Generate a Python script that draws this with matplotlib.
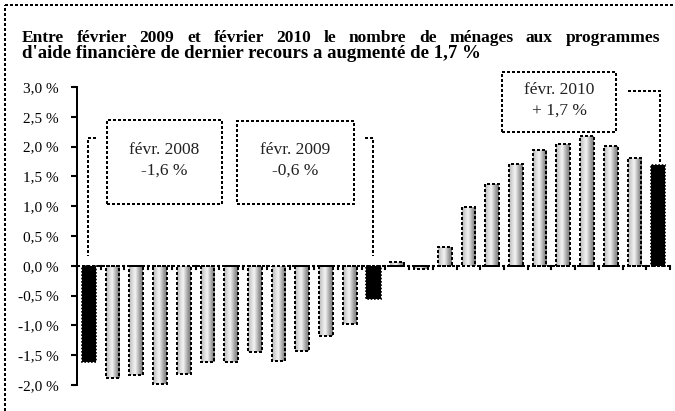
import numpy as np
import matplotlib
matplotlib.use("Agg")
import matplotlib.pyplot as plt
from matplotlib.colors import LinearSegmentedColormap
from matplotlib.lines import Line2D
from matplotlib.patches import Rectangle

# ---- data ----
months = ["févr. 2008", "mars 2008", "avr. 2008", "mai 2008", "juin 2008", "juil. 2008",
          "août 2008", "sept. 2008", "oct. 2008", "nov. 2008", "déc. 2008", "janv. 2009",
          "févr. 2009", "mars 2009", "avr. 2009", "mai 2009", "juin 2009", "juil. 2009",
          "août 2009", "sept. 2009", "oct. 2009", "nov. 2009", "déc. 2009", "janv. 2010",
          "févr. 2010"]
values = [-1.62, -1.88, -1.83, -1.98, -1.82, -1.62, -1.62, -1.44, -1.60, -1.43, -1.18, -0.98,
          -0.56, 0.07, -0.05, 0.32, 0.98, 1.38, 1.71, 1.95, 2.05, 2.18, 2.01, 1.81, 1.69]
highlight = ["févr. 2008", "févr. 2009", "févr. 2010"]
yticks = [-2.0, -1.5, -1.0, -0.5, 0.0, 0.5, 1.0, 1.5, 2.0, 2.5, 3.0]
ytick_labels = ["-2,0 %", "-1,5 %", "-1,0 %", "-0,5 %", "0,0 %", "0,5 %", "1,0 %",
                "1,5 %", "2,0 %", "2,5 %", "3,0 %"]
title_line1 = "Entre février 2009 et février 2010 le nombre de ménages aux programmes"
title_line2 = "d'aide financière de dernier recours a augmenté de 1,7 %"
box_texts = ["févr. 2008\n-1,6 %", "févr. 2009\n-0,6 %", "févr. 2010\n+ 1,7 %"]

W, H = 675, 411
SERIF = ["Liberation Serif", "DejaVu Serif"]
DOT = (0, (1, 1))
LW = 1.5

fig = plt.figure(figsize=(W / 100, H / 100), dpi=100)
fig.patch.set_facecolor("white")

def fx(px):
    return px / W

def fy(py):
    return 1 - py / H

ax = fig.add_axes([fx(77), fy(385), fx(670) - fx(77), fy(87) - fy(385)])
ax.set_facecolor("none")
x = np.arange(len(values))
ax.set_xlim(-0.5, len(values) - 0.5)
ax.set_ylim(-2.0, 3.0)

cmap = LinearSegmentedColormap.from_list(
    "cyl", [(0.0, "#b8b8b8"), (0.25, "#dcdcdc"), (0.45, "#f4f4f4"),
            (0.62, "#c8c8c8"), (0.8, "#9a9a9a"), (1.0, "#7a7a7a")])
grad = np.linspace(0, 1, 64).reshape(1, -1)
bw = 0.58
for xi, v, m in zip(x, values, months):
    if m in highlight:
        ax.bar(xi, v, width=0.6, color="black", edgecolor="black", linewidth=1.2,
               linestyle=DOT, zorder=3)
    else:
        b = ax.bar(xi, v, width=bw, color="white", edgecolor="none", zorder=2)[0]
        im = ax.imshow(grad, cmap=cmap, aspect="auto", zorder=2.5,
                       extent=[xi - bw / 2, xi + bw / 2, min(0, v), max(0, v)],
                       interpolation="bilinear")
        im.set_clip_path(b)
        ax.bar(xi, v, width=bw, facecolor="none", edgecolor="black", linewidth=LW,
               linestyle=DOT, zorder=3, antialiased=False)
ax.set_xlim(-0.5, len(values) - 0.5)
ax.set_ylim(-2.0, 3.0)

# axes styling
for s in ["top", "right", "bottom"]:
    ax.spines[s].set_visible(False)
ax.spines["left"].set_linestyle(DOT)
ax.spines["left"].set_linewidth(LW)
ax.spines["left"].set_antialiased(False)
ax.axhline(0, color="black", linewidth=LW, linestyle=DOT, zorder=4, antialiased=False)
ax.set_yticks(yticks)
ax.set_yticklabels(ytick_labels, fontfamily=SERIF, fontsize=11)
ax.tick_params(axis="y", direction="out", length=4, width=1.5, pad=9)
ax.set_xticks([])
for b in np.arange(len(values) + 1) - 0.5:
    ax.plot([b, b], [0, -0.05], color="black", lw=1.5, zorder=4, clip_on=False)

# annotation boxes (figure pixel coordinates)
boxes = [(107, 120, 222, 204), (237, 121, 354, 204), (502, 72, 616, 132)]
for (x0, y0, x1, y1), t in zip(boxes, box_texts):
    fig.patches.append(Rectangle((fx(x0), fy(y1)), fx(x1) - fx(x0), fy(y0) - fy(y1),
                                 transform=fig.transFigure, facecolor="white",
                                 edgecolor="black", linewidth=LW, linestyle=DOT,
                                 antialiased=False))
    fig.text(fx((x0 + x1) / 2), fy((y0 + y1) / 2 - 2), t, ha="center", va="center",
             fontfamily=SERIF, fontsize=12.5, linespacing=1.4, color="#222222")

def fline(xs, ys):
    fig.add_artist(Line2D([fx(v) for v in xs], [fy(v) for v in ys], color="black",
                          linewidth=LW, linestyle=DOT, transform=fig.transFigure,
                          antialiased=False))

fline([96, 88, 88], [138, 138, 256])
fline([365, 373, 373], [138, 138, 256])
fline([628, 660, 660], [91, 91, 164])

# outer frame (left and top)
fline([5, 5], [411, 5])
fline([5, 675], [5, 5])

# title, first line justified
fig.canvas.draw()
r = fig.canvas.get_renderer()
words = title_line1.split(" ")
arts = [fig.text(0, fy(41.5), w, fontfamily=SERIF, fontsize=12.5, fontweight="bold",
                 va="baseline") for w in words]
widths = [a.get_window_extent(r).width for a in arts]
left, right = 22, 660
gap = (right - left - sum(widths)) / (len(words) - 1)
pos = left
for a, wd in zip(arts, widths):
    a.set_x(fx(pos))
    pos += wd + gap
fig.text(fx(22), fy(58), title_line2, fontfamily=SERIF, fontsize=13.5,
         fontweight="bold", va="baseline")

fig.savefig("out.png", dpi=100)
